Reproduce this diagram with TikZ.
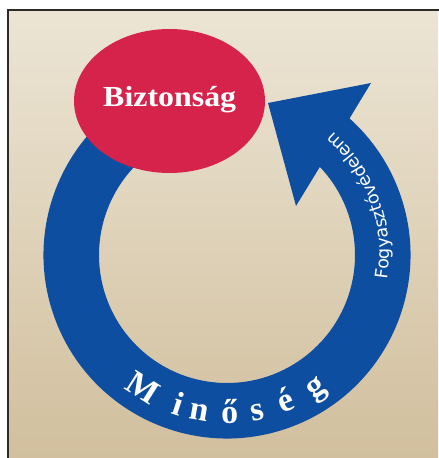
\documentclass[tikz,border=0pt]{standalone}
\usepackage{fontspec}
\setmainfont{Liberation Serif}
\newfontfamily\fogyfont{DejaVu Sans}
\newcommand\fogysize{\fogyfont\fontsize{17.5}{17.5}\selectfont}
\usetikzlibrary{decorations.text,calc,shapes.geometric}
\definecolor{ringblue}{RGB}{14,78,161}
\definecolor{ovalred}{RGB}{214,35,75}
\definecolor{bgtop}{RGB}{236,229,213}
\definecolor{bgbot}{RGB}{209,191,157}
\definecolor{framedark}{RGB}{45,42,40}
\tikzset{
  ovalshape/.style={ellipse, fill=ovalred, draw=none, inner sep=0pt, minimum width=191pt, minimum height=144pt},
  ovaltext/.style={text=white, font=\bfseries\fontsize{29}{29}\selectfont, xscale=1.1, inner sep=0pt},
  ringletter/.style={text=white, font=\bfseries\fontsize{34}{34}\selectfont, inner sep=0pt, anchor=base}
}
\begin{document}
\begin{tikzpicture}[x=1pt,y=1pt]
\useasboundingbox (0,0) rectangle (439,458);
\shade[top color=bgtop,bottom color=bgbot] (8,0) rectangle (438,448);
\draw[framedark,line width=2.5pt] (8.2,0) -- (8.2,447.8) -- (439,447.8);
\coordinate (C) at (227,203);
\coordinate (tip) at (371,375);
\coordinate (barbA) at (268,355);
\coordinate (barbB) at (296,252);
\fill[ringblue] ($(C)+(110:183.5)$) arc[start angle=110,end angle=408.1,radius=183.5]
  -- (tip) -- (barbA) -- (barbB) -- ($(C)+(43.5:128)$)
  arc[start angle=43.5,end angle=-250,radius=128] -- cycle;
\node[ovalshape] (oval) at (169.5,357) {};
\node[ovaltext, anchor=base] (biz) at (169.7,351.3) {Biztonság};
\foreach \ch/\a [count=\k] in {M/237.5, i/252, n/260, ő/271, s/281, é/292, g/304}
  \node[ringletter, rotate=\a+90] (m\k) at ($(C)+(\a:168)$) {\ch};
\path[font=\fogysize, decorate, decoration={text along path, text color=white,
   text={|\fogysize|Fogyasztóvédelem}, text align=center}]
   ($(C)+(-20:162.5)$) arc[start angle=-20,end angle=60.5,radius=162.5];
\end{tikzpicture}
\end{document}
